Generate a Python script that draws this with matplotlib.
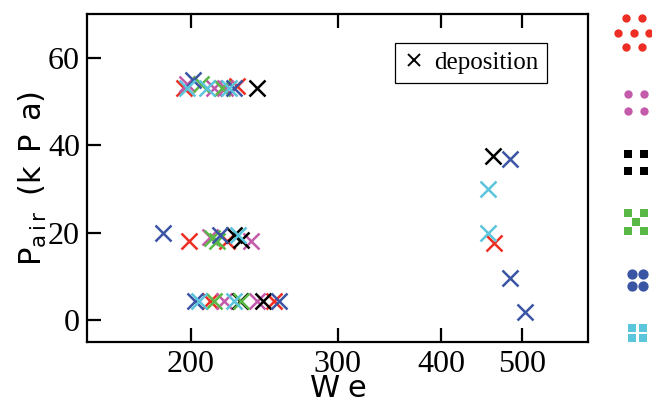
import matplotlib
matplotlib.use("Agg")
import matplotlib.pyplot as plt
from matplotlib.lines import Line2D
from matplotlib.ticker import FixedLocator, NullLocator

plt.rcParams['mathtext.fontset'] = 'custom'
plt.rcParams['mathtext.rm'] = 'Liberation Sans'

# Data: (We, P_air in kPa) per series
red_we = [196, 227, 199, 221, 211, 252, 463]
red_p = [53, 53.5, 18, 18, 4.3, 4.3, 17.7]

magenta_we = [198, 213, 220, 211, 236, 219, 240]
magenta_p = [54, 53, 53, 19, 18, 4.3, 4.3]

black_we = [240, 225, 230, 229, 244, 461]
black_p = [53, 19.5, 18.3, 4.3, 4.3, 37.6]

green_we = [205.6, 218, 212, 215, 213, 230]
green_p = [54, 53, 18.8, 18, 4.3, 4.3]

blue_we = [200.9, 225.6, 185, 217, 202, 255, 484, 484, 504]
blue_p = [55, 53, 20, 19.5, 4.3, 4.3, 36.8, 9.7, 1.9]

cyan_we = [198, 209, 222, 228, 204.6, 225.6, 454.5, 454.5]
cyan_p = [53, 53, 53, 19.5, 4.3, 4.3, 29.9, 20]

series = [
    (red_we, red_p, '#ee2e24'),
    (magenta_we, magenta_p, '#c45aaa'),
    (black_we, black_p, '#000000'),
    (green_we, green_p, '#5ab946'),
    (blue_we, blue_p, '#3a55a4'),
    (cyan_we, cyan_p, '#5bc5dc'),
]

x_ticks = [200, 300, 400, 500]
y_ticks = [0, 20, 40, 60]

# Icons at the right edge, in pixel coordinates of the picture
icon_red = [(626, 18), (642, 18), (618, 33), (634, 33), (649, 33), (626, 47), (642, 47)]
icon_magenta = [(628, 94), (644, 94), (628, 111), (644, 111)]
icon_black = [(628, 154), (644, 154), (628, 171), (644, 171)]
icon_green = [(628, 213), (644, 213), (636, 222), (628, 231), (644, 231)]
icon_blue = [(632, 274), (643, 274), (632, 286), (643, 286)]
icon_cyan = [(631.5, 327.5), (642.5, 327.5), (631.5, 338), (642.5, 338)]

fig = plt.figure(figsize=(6.52, 4.04), dpi=100)
ax = fig.add_axes([87 / 652, 1 - 342 / 404, 501 / 652, 328 / 404])

for we, p, c in series:
    ax.plot(we, p, linestyle='none', marker='x', color=c, markersize=11, markeredgewidth=1.8)

ax.set_xscale('log')
ax.set_xlim(150, 600)
ax.set_ylim(-5, 70)
ax.xaxis.set_major_locator(FixedLocator(x_ticks))
ax.xaxis.set_minor_locator(NullLocator())
ax.set_xticklabels([str(t) for t in x_ticks])
ax.set_yticks(y_ticks)

for sp in ax.spines.values():
    sp.set_linewidth(1.6)
ax.tick_params(direction='in', length=10, width=1.6, top=True, right=False,
               labelsize=23, pad=5)
ax.tick_params(axis='x', pad=6)
for lab in ax.get_xticklabels() + ax.get_yticklabels():
    lab.set_fontfamily('Liberation Serif')

ax.set_xlabel(r'$\mathregular{W\;e}$', fontsize=22, labelpad=-4)
ax.set_ylabel(r'$\mathregular{P_{a\,i\,r}\;\;(k\;\,P\;\,a)}$', fontsize=22, labelpad=-1)

proxy = Line2D([], [], linestyle='none', marker='x', color='black',
               markersize=8, markeredgewidth=1.4)
leg = ax.legend([proxy], ['deposition'], loc='upper right',
                bbox_to_anchor=(0.918, 0.912), borderaxespad=0,
                prop={'family': 'Liberation Serif', 'size': 18},
                fancybox=False, edgecolor='black', framealpha=1,
                handlelength=0.8, handletextpad=0.4, borderpad=0.35)
leg.get_frame().set_linewidth(0.9)

# overlay in pixel coordinates for the pattern icons
ov = fig.add_axes([0, 0, 1, 1])
ov.set_xlim(0, 652)
ov.set_ylim(404, 0)
ov.axis('off')
icons = [
    (icon_red, 'o', '#ee2e24', 6),
    (icon_magenta, 'o', '#c45aaa', 6),
    (icon_black, 's', '#000000', 5.6),
    (icon_green, 's', '#5ab946', 6.3),
    (icon_blue, 'o', '#3a55a4', 7.4),
    (icon_cyan, 's', '#5bc5dc', 6.4),
]
for pts, m, c, s in icons:
    ov.plot([q[0] for q in pts], [q[1] for q in pts], linestyle='none',
            marker=m, color=c, markersize=s, markeredgewidth=0)

fig.savefig('out.png', dpi=100)
